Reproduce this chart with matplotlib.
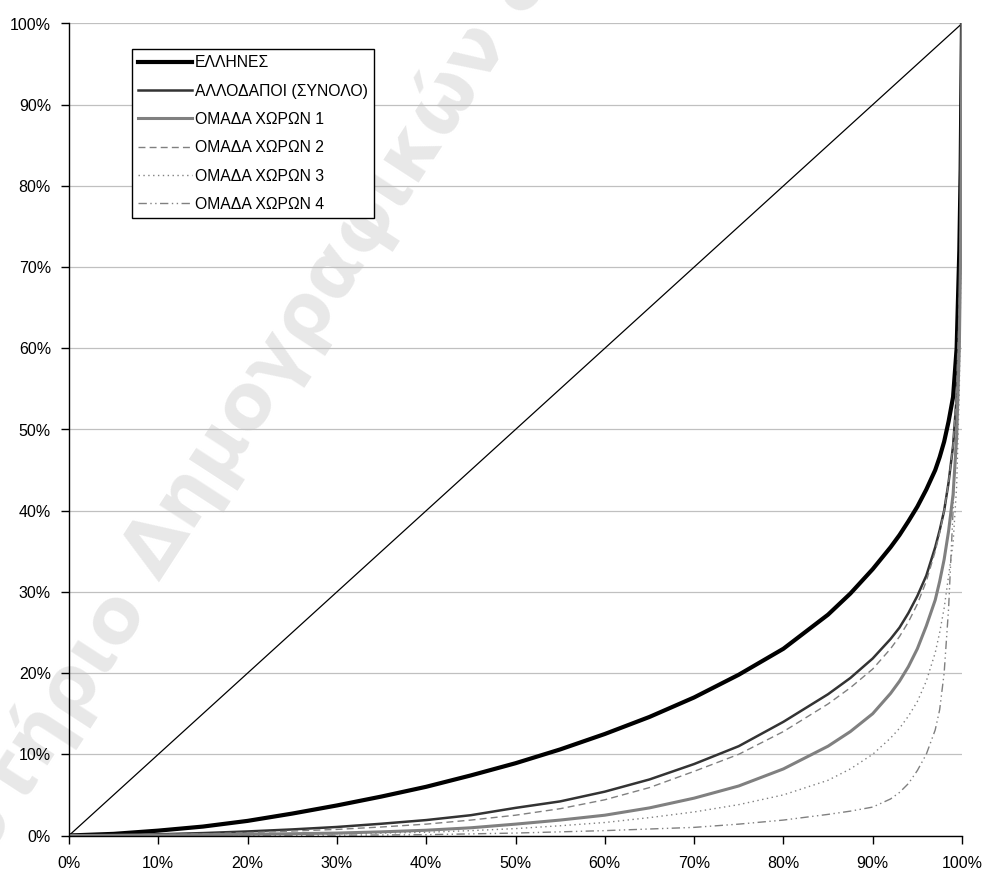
import matplotlib
matplotlib.use("Agg")
import matplotlib.pyplot as plt
from matplotlib.ticker import FuncFormatter, MultipleLocator

plt.rcParams['font.family'] = ['Liberation Sans', 'DejaVu Sans']

# cumulative population share (%)
pop = [0, 5, 10, 15, 20, 25, 30, 35, 40, 45, 50, 55, 60, 65, 70, 75, 80, 85,
       87.5, 90, 92, 93, 94, 95, 96, 97, 97.5, 98, 98.5, 99, 99.4, 99.7, 99.85, 100]

# cumulative share (%) for each series
ellines = [0, 0.2, 0.6, 1.1, 1.8, 2.7, 3.7, 4.8, 6.0, 7.4, 8.9, 10.6, 12.5, 14.6, 17.0, 19.8, 23.0, 27.2,
           29.8, 32.8, 35.5, 37.0, 38.7, 40.5, 42.6, 45.0, 46.6, 48.5, 51, 54, 60, 72, 82, 100]
allodapoi = [0, 0.05, 0.15, 0.3, 0.5, 0.75, 1.05, 1.45, 1.9, 2.5, 3.4, 4.2, 5.4, 6.9, 8.8, 11.0, 14.0, 17.4,
             19.4, 21.8, 24.2, 25.6, 27.4, 29.5, 32, 35.5, 37.6, 40, 43.5, 48, 54, 64, 75, 100]
group1 = [0, 0.02, 0.05, 0.1, 0.15, 0.22, 0.3, 0.45, 0.65, 0.95, 1.4, 1.9, 2.5, 3.4, 4.6, 6.1, 8.2, 11.0,
          12.8, 15.0, 17.5, 19.0, 20.8, 23.0, 25.8, 29.0, 31.3, 34, 37.5, 42, 49, 60, 72, 100]
group2 = [0, 0.03, 0.1, 0.2, 0.35, 0.55, 0.75, 1.05, 1.4, 1.9, 2.5, 3.3, 4.4, 5.9, 7.9, 10.0, 12.8, 16.2,
          18.2, 20.5, 23.0, 24.5, 26.3, 28.5, 31.3, 35, 37.3, 40, 43.5, 48, 55, 65, 75, 100]
group3 = [0, 0.01, 0.02, 0.05, 0.08, 0.14, 0.2, 0.3, 0.4, 0.6, 0.85, 1.2, 1.6, 2.2, 2.9, 3.8, 5.0, 6.8,
          8.2, 10.0, 12.0, 13.2, 14.7, 16.5, 19.0, 22.5, 25, 28, 32, 36, 43, 55, 68, 100]
group4 = [0, 0, 0, 0.01, 0.02, 0.03, 0.05, 0.07, 0.1, 0.2, 0.3, 0.45, 0.6, 0.8, 1.0, 1.4, 1.9, 2.6,
          3.0, 3.5, 4.5, 5.3, 6.4, 8.0, 10.0, 13.0, 15.5, 20, 28, 40, 52, 64, 75, 100]
equality = [0, 100]

labels = ['ΕΛΛΗΝΕΣ', 'ΑΛΛΟΔΑΠΟΙ (ΣΥΝΟΛΟ)', 'ΟΜΑΔΑ ΧΩΡΩΝ 1', 'ΟΜΑΔΑ ΧΩΡΩΝ 2',
          'ΟΜΑΔΑ ΧΩΡΩΝ 3', 'ΟΜΑΔΑ ΧΩΡΩΝ 4']

fig = plt.figure(figsize=(9.83, 8.71), dpi=100)
ax = fig.add_axes([69 / 983, 1 - 835.5 / 871, (962 - 69) / 983, (835.5 - 23.5) / 871])

# faint watermark behind the chart
wm = dict(color='#e8e8e8', fontsize=55, weight='bold', rotation=57,
          rotation_mode='anchor', va='baseline', zorder=-1,
          family=['DejaVu Sans'])
fig.text(160 / 983, 1 - 582 / 871, 'Δημογραφικών & Κοινωνικών', ha='left', **wm)
fig.text(146 / 983, 1 - 604 / 871, 'Εργαστήριο', ha='right', **wm)

ax.set_facecolor('none')
ax.plot(equality, equality, color='black', lw=0.9)
ax.plot(pop, ellines, color='black', lw=3.0, label=labels[0])
ax.plot(pop, allodapoi, color='#333333', lw=1.8, label=labels[1])
ax.plot(pop, group1, color='#808080', lw=2.2, label=labels[2])
ax.plot(pop, group2, color='#808080', lw=1.0, dashes=(5, 3), label=labels[3])
ax.plot(pop, group3, color='#808080', lw=1.0, dashes=(1, 2.5), label=labels[4])
ax.plot(pop, group4, color='#808080', lw=1.0, dashes=(6, 2.5, 1, 2.5, 1, 2.5), label=labels[5])

ax.set_xlim(0, 100)
ax.set_ylim(0, 100)
ax.xaxis.set_major_locator(MultipleLocator(10))
ax.yaxis.set_major_locator(MultipleLocator(10))
pct = FuncFormatter(lambda v, p: '%d%%' % round(v))
ax.xaxis.set_major_formatter(pct)
ax.yaxis.set_major_formatter(pct)
ax.grid(axis='y', color='#c0c0c0', lw=0.9)
ax.set_axisbelow(True)
for s in ['top', 'right']:
    ax.spines[s].set_visible(False)
for s in ['left', 'bottom']:
    ax.spines[s].set_color('black')
    ax.spines[s].set_linewidth(1.0)
ax.tick_params(axis='x', length=6, width=1, pad=9, labelsize=11.5)
ax.tick_params(axis='y', length=6, width=1, pad=7, labelsize=11.5)

leg = ax.legend(loc='upper left', bbox_to_anchor=(132 / 983, 1 - 49 / 871),
                bbox_transform=fig.transFigure, borderaxespad=0, fontsize=11.3,
                fancybox=False, framealpha=1, edgecolor='black', handlelength=3.4,
                handletextpad=0.2, labelspacing=0.85, borderpad=0.4)
leg.get_frame().set_linewidth(1.0)

fig.savefig('out.png', dpi=100)
